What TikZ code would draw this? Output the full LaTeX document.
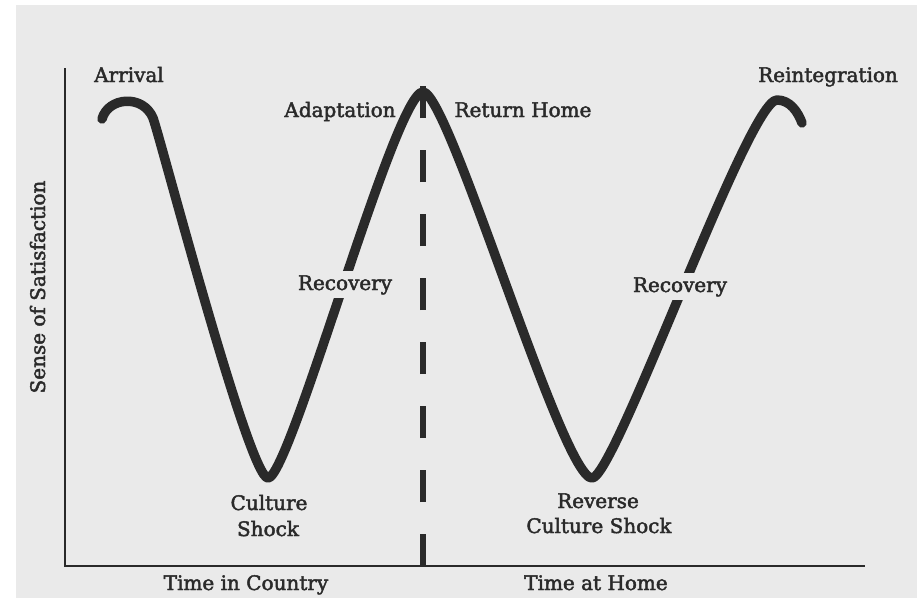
\documentclass[tikz,border=0pt]{standalone}
\usepackage{fontspec}
\setmainfont{DejaVu Serif}[BoldFont={DejaVu Serif}, BoldFeatures={FakeBold=2.2}]
\definecolor{paper}{HTML}{EAEAEA}
\definecolor{ink}{HTML}{2A2A2A}
\begin{document}
\begin{tikzpicture}[x=1pt,y=-1pt,
  lbl/.style={font=\fontsize{20}{24}\selectfont\bfseries, text=ink, inner sep=1pt},
  gap/.style={lbl, fill=paper, inner sep=4pt},
  axis/.style={draw=ink, line width=2.6pt},
  divider/.style={draw=ink, line width=6pt, dash pattern=on 32pt off 32pt},
  wcurve/.style={draw=ink, line width=9.5pt, line cap=round, line join=round}]

% page
\useasboundingbox (0,0) rectangle (917,598);
\fill[white] (0,0) rectangle (917,598);
\fill[paper] (16,5) rectangle (917,598);

% axes
\coordinate (ytop) at (65,68);
\coordinate (origin) at (65,566);
\coordinate (xend) at (865,566);
\draw[axis] (ytop) -- (origin) -- (xend);

% divider between the two stays
\coordinate (divbot) at (423,566);
\coordinate (divtop) at (423,86);
\draw[divider] (divbot) -- (divtop);

% the W curve: arrival hump, two troughs, middle peak, reintegration hook
\coordinate (start) at (102,119);
\coordinate (hump) at (153,118);
\coordinate (low1) at (268,478);
\coordinate (peak) at (423,92);
\coordinate (low2) at (592,478);
\coordinate (top2) at (777,100);
\coordinate (finish) at (802,123);
\draw[wcurve] (start)
  .. controls (108,97) and (143,94) .. (hump)
  .. controls (161,140) and (249,478) .. (low1)
  .. controls (290,478) and (395,92) .. (peak)
  .. controls (449,92) and (562,478) .. (low2)
  .. controls (615,478) and (748,100) .. (top2)
  .. controls (790,100) and (798,112) .. (finish);

% labels
\node[lbl, anchor=base] (arrival) at (129,82) {Arrival};
\node[lbl, anchor=base] (adapt) at (340,117) {Adaptation};
\node[lbl, anchor=base] (rethome) at (523,117) {Return Home};
\node[lbl, anchor=base] (reint) at (828,82) {Reintegration};
\node[gap, anchor=base] (recov1) at (345,290) {Recovery};
\node[gap, anchor=base] (recov2) at (680,292) {Recovery};
\node[lbl, anchor=base] (cs1) at (269,510) {Culture};
\node[lbl, anchor=base] (cs2) at (268,536) {Shock};
\node[lbl, anchor=base] (rcs1) at (598,508) {Reverse};
\node[lbl, anchor=base] (rcs2) at (599,533) {Culture Shock};
\node[lbl, anchor=base] (tcountry) at (246,590) {Time in Country};
\node[lbl, anchor=base] (thome) at (596,590) {Time at Home};
\node[lbl, anchor=base, rotate=90] (ylabel) at (45,287) {Sense of Satisfaction};
\end{tikzpicture}
\end{document}
